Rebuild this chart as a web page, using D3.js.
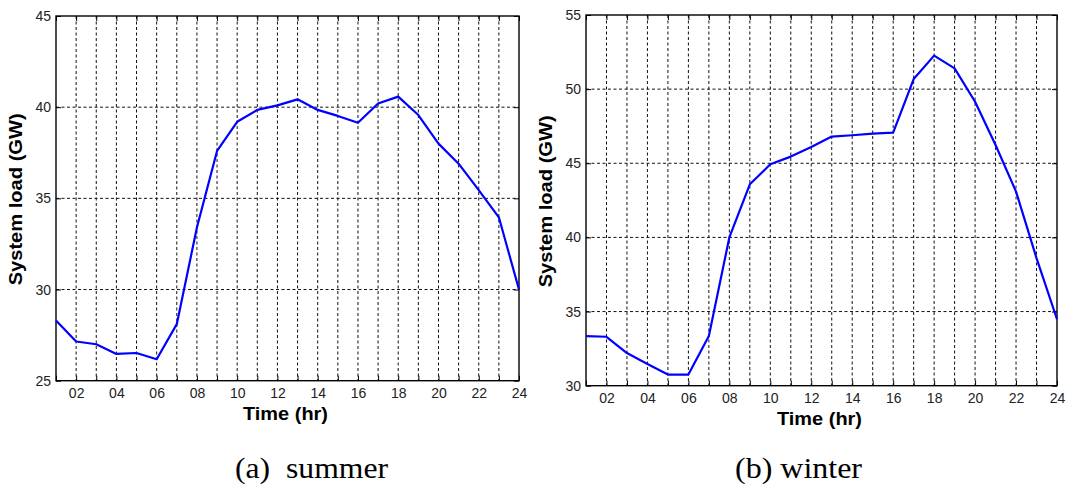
<!DOCTYPE html>
<html>
<head>
<meta charset="utf-8">
<script src="https://cdn.jsdelivr.net/npm/d3@7"></script>
<style>
  body { margin: 0; background: #fff; }
  svg { display: block; }
  .tick text { font-family: Arial, "Liberation Sans", sans-serif; font-size: 14px; fill: #222; }
</style>
</head>
<body>
<div id="chart"></div>
<script>
// hours of the day
const hours = [1, 2, 3, 4, 5, 6, 7, 8, 9, 10, 11, 12, 13, 14, 15, 16, 17, 18, 19, 20, 21, 22, 23, 24];
const xTickLabels = ["", "02", "", "04", "", "06", "", "08", "", "10", "", "12", "", "14", "", "16", "", "18", "", "20", "", "22", "", "24"];

// system load, GW
const summerLoad = [28.3, 27.15, 27.0, 26.47, 26.52, 26.18, 28.1, 33.4, 37.6, 39.2, 39.85, 40.1,
                    40.43, 39.85, 39.52, 39.15, 40.2, 40.58, 39.57, 38.0, 36.9, 35.45, 33.96, 30.0];
const winterLoad = [33.35, 33.3, 32.2, 31.47, 30.75, 30.75, 33.35, 40.0, 43.58, 44.93, 45.45, 46.1,
                    46.8, 46.89, 47.0, 47.07, 50.68, 52.26, 51.4, 49.15, 46.23, 43.09, 38.6, 34.48];

const summerTicks = [25, 30, 35, 40, 45];
const winterTicks = [30, 35, 40, 45, 50, 55];

const width = 1070, height = 484;
const svg = d3.select("#chart").append("svg")
  .attr("width", width)
  .attr("height", height);

const sans = 'Arial, "Liberation Sans", Helvetica, sans-serif';
const serif = '"Times New Roman", "Liberation Serif", serif';

function drawPanel(p) {
  const g = svg.append("g");
  const x = d3.scaleLinear().domain([1, 24]).range([p.left, p.right]);
  const y = d3.scaleLinear().domain([p.ticks[0], p.ticks[p.ticks.length - 1]]).range([p.bottom, p.top]);

  // dashed grid
  g.selectAll(".vgrid")
    .data(hours.slice(1, -1))
    .enter().append("line")
    .attr("x1", d => x(d)).attr("x2", d => x(d))
    .attr("y1", p.top).attr("y2", p.bottom)
    .attr("stroke", "#111")
    .attr("stroke-width", 1)
    .attr("stroke-dasharray", "3,2.5");
  g.selectAll(".hgrid")
    .data(p.ticks.slice(1, -1))
    .enter().append("line")
    .attr("x1", p.left).attr("x2", p.right)
    .attr("y1", d => y(d)).attr("y2", d => y(d))
    .attr("stroke", "#111")
    .attr("stroke-width", 1)
    .attr("stroke-dasharray", "3,2.5");

  // axes, ticks pointing inward
  const bottomAxis = d3.axisBottom(x)
    .tickValues(hours)
    .tickFormat((d, i) => xTickLabels[i])
    .tickSizeInner(-5).tickSizeOuter(0).tickPadding(7);
  g.append("g").attr("transform", "translate(0," + p.bottom + ")").call(bottomAxis);

  const topAxis = d3.axisTop(x).tickValues(hours).tickFormat("").tickSizeInner(-5).tickSizeOuter(0);
  g.append("g").attr("transform", "translate(0," + p.top + ")").call(topAxis);

  const leftAxis = d3.axisLeft(y)
    .tickValues(p.ticks)
    .tickFormat(d3.format("d"))
    .tickSizeInner(-5).tickSizeOuter(0).tickPadding(5);
  g.append("g").attr("transform", "translate(" + p.left + ",0)").call(leftAxis);

  const rightAxis = d3.axisRight(y).tickValues(p.ticks).tickFormat("").tickSizeInner(-5).tickSizeOuter(0);
  g.append("g").attr("transform", "translate(" + p.right + ",0)").call(rightAxis);

  g.selectAll(".domain").remove();
  g.selectAll(".tick line").attr("stroke", "#000");

  // frame
  g.append("rect")
    .attr("x", p.left).attr("y", p.top)
    .attr("width", p.right - p.left).attr("height", p.bottom - p.top)
    .attr("fill", "none")
    .attr("stroke", "#000")
    .attr("stroke-width", 1.4);

  // load curve
  const line = d3.line()
    .x((d, i) => x(hours[i]))
    .y(d => y(d));
  g.append("path")
    .datum(p.values)
    .attr("d", line)
    .attr("fill", "none")
    .attr("stroke", "#0000ff")
    .attr("stroke-width", 2.2)
    .attr("stroke-linejoin", "round");

  // titles
  g.append("text")
    .attr("x", (p.left + p.right) / 2 - 2)
    .attr("y", p.bottom + 39.5)
    .attr("text-anchor", "middle")
    .attr("textLength", 85)
    .attr("lengthAdjust", "spacingAndGlyphs")
    .style("font-family", sans)
    .style("font-weight", "bold")
    .style("font-size", "18.5px")
    .text("Time (hr)");

  g.append("text")
    .attr("transform", "translate(" + (p.left - 34) + "," + ((p.top + p.bottom) / 2 + 1) + ") rotate(-90)")
    .attr("text-anchor", "middle")
    .attr("textLength", 172)
    .attr("lengthAdjust", "spacingAndGlyphs")
    .style("font-family", sans)
    .style("font-weight", "bold")
    .style("font-size", "18.5px")
    .text("System load (GW)");

  g.append("text")
    .attr("x", p.captionX)
    .attr("y", 478)
    .attr("textLength", p.captionLen)
    .attr("lengthAdjust", "spacingAndGlyphs")
    .style("font-family", serif)
    .style("font-size", "30px")
    .style("white-space", "pre")
    .text(p.caption);
}

drawPanel({ left: 56, right: 519, top: 16, bottom: 380.7, ticks: summerTicks, values: summerLoad,
            caption: "(a)  summer", captionX: 235, captionLen: 153 });
drawPanel({ left: 586, right: 1057, top: 15, bottom: 385.7, ticks: winterTicks, values: winterLoad,
            caption: "(b) winter", captionX: 735, captionLen: 127 });
</script>
</body>
</html>
